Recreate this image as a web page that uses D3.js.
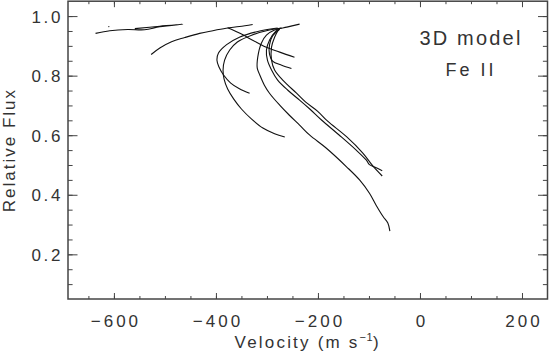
<!DOCTYPE html>
<html>
<head>
<meta charset="utf-8">
<script src="https://cdn.jsdelivr.net/npm/d3@7"></script>
<style>
body { margin: 0; background: #fff; }
svg { display: block; }
text { font-family: "Liberation Sans", Arial, sans-serif; fill: #333; }
</style>
</head>
<body>
<script>
// Figure size
const W = 549, H = 356;
const X0 = 68, X1 = 547.5, Y0 = 299, Y1 = 1.2;

// Axis ticks
const X_MAJOR = [-600, -400, -200, 0, 200];
const X_MINOR = d3.range(-650, 250, 50);
const Y_MAJOR = [0.2, 0.4, 0.6, 0.8, 1.0];
const Y_MINOR = d3.range(0.1, 1.05, 0.05);

// Bisectors (velocity m/s, relative flux)
const curveA = [[-636,0.942],[-608,0.951],[-573,0.955],[-540,0.954],[-510,0.964],[-465,0.973],[-510,0.966],[-559,0.958]];
const dotA   = [[-611,0.964],[-609,0.965]];
const curveB = [[-527,0.871],[-510,0.893],[-487,0.914],[-461,0.928],[-432,0.942],[-406,0.951],[-380,0.959],[-354,0.965],[-328,0.972]];
const outerC = [[-334,0.741],[-354,0.756],[-371,0.775],[-385,0.802],[-394,0.829],[-398,0.852],[-395,0.876],[-379,0.904],[-354,0.929],[-314,0.950],[-279,0.960]];
const innerC = [[-265,0.594],[-285,0.605],[-308,0.624],[-330,0.654],[-350,0.688],[-365,0.721],[-377,0.755],[-384,0.788],[-386,0.819],[-383,0.852],[-373,0.886],[-358,0.913],[-330,0.936],[-295,0.953],[-271,0.960]];
const longL  = [[-59,0.278],[-63,0.305],[-72,0.326],[-86,0.365],[-99,0.405],[-118,0.449],[-144,0.494],[-184,0.557],[-216,0.600],[-236,0.634],[-256,0.667],[-275,0.701],[-295,0.741],[-305,0.768],[-314,0.802],[-319,0.825],[-318,0.862],[-311,0.909],[-301,0.936],[-285,0.953],[-261,0.963],[-236,0.973]];
const para1  = [[-74,0.481],[-89,0.493],[-99,0.501],[-105,0.516],[-125,0.550],[-158,0.600],[-193,0.651],[-216,0.688],[-236,0.718],[-259,0.751],[-279,0.785],[-291,0.819],[-299,0.852],[-301,0.886],[-295,0.919],[-282,0.950],[-273,0.960]];
const para2  = [[-74,0.463],[-92,0.496],[-112,0.540],[-144,0.595],[-181,0.647],[-201,0.681],[-224,0.711],[-242,0.741],[-269,0.785],[-285,0.819],[-291,0.852],[-291,0.896],[-285,0.929],[-277,0.956]];
const arm1   = [[-246,0.862],[-275,0.879],[-305,0.898],[-328,0.919],[-354,0.943],[-377,0.961]];
const arm2   = [[-252,0.824],[-271,0.835],[-289,0.849],[-295,0.872],[-295,0.903],[-289,0.933],[-275,0.956]];

const CURVES = [curveA, dotA, curveB, outerC, innerC, longL, para1, para2, arm1, arm2];

// Scales
const x = d3.scaleLinear().domain([-690, 250]).range([X0, X1]);
const y = d3.scaleLinear().domain([0.05, 1.05]).range([Y0, Y1]);

const svg = d3.select("body").append("svg")
  .attr("width", W)
  .attr("height", H);

// Curves
const line = d3.line()
  .x(d => x(d[0]))
  .y(d => y(d[1]))
  .curve(d3.curveCatmullRom.alpha(0.5));

svg.append("g").selectAll("path")
  .data(CURVES)
  .join("path")
    .attr("d", line)
    .attr("fill", "none")
    .attr("stroke", "#111")
    .attr("stroke-width", 1.1);

// Axes: ticks point inward, IDL style
const AX = "#444";
const tidy = g => {
  g.select(".domain").remove();
  g.selectAll("line").attr("stroke", AX);
};

// major + minor on each side
const addX = (gen, ty, len, vals, labels) => {
  const g = svg.append("g")
    .attr("transform", `translate(0,${ty})`)
    .call(gen(x).tickValues(vals).tickSizeInner(-len).tickSizeOuter(0)
      .tickFormat(labels ? d3.format("d") : ""));
  tidy(g);
  return g;
};
const addY = (gen, tx, len, vals, labels) => {
  const g = svg.append("g")
    .attr("transform", `translate(${tx},0)`)
    .call(gen(y).tickValues(vals).tickSizeInner(-len).tickSizeOuter(0)
      .tickFormat(labels ? d3.format(".1f") : ""));
  tidy(g);
  return g;
};

addX(d3.axisBottom, Y0, 3, X_MINOR, false);
addX(d3.axisTop, Y1, 3, X_MINOR, false);
addY(d3.axisLeft, X0, 4.6, Y_MINOR, false);
addY(d3.axisRight, X1, 4.6, Y_MINOR, false);
addX(d3.axisTop, Y1, 6, X_MAJOR, false);
addY(d3.axisRight, X1, 9.5, Y_MAJOR, false);

const xb = addX(d3.axisBottom, Y0, 6, X_MAJOR, true);
xb.selectAll("text")
  .attr("y", 28).attr("dy", 0)
  .attr("font-size", 17)
  .attr("letter-spacing", 3)
  .attr("dx", 1.5);

const yl = addY(d3.axisLeft, X0, 9.5, Y_MAJOR, true);
yl.selectAll("text")
  .attr("x", -5)
  .attr("dy", "0.36em")
  .attr("font-size", 17)
  .attr("letter-spacing", 2.6);

// Frame
svg.append("rect")
  .attr("x", X0).attr("y", Y1)
  .attr("width", X1 - X0).attr("height", Y0 - Y1)
  .attr("fill", "none")
  .attr("stroke", AX)
  .attr("stroke-width", 1.5);

// Axis titles
const xt = svg.append("text")
  .attr("x", (X0 + X1) / 2)
  .attr("y", 348)
  .attr("text-anchor", "middle")
  .attr("font-size", 17)
  .attr("letter-spacing", 2.2);
xt.append("tspan").text("Velocity (m s");
xt.append("tspan").attr("dy", -7).attr("font-size", 11).attr("letter-spacing", 0.5).text("\u22121");
xt.append("tspan").attr("dy", 7).text(")");

svg.append("text")
  .attr("transform", `translate(15,${(Y0 + Y1) / 2}) rotate(-90)`)
  .attr("text-anchor", "middle")
  .attr("font-size", 17)
  .attr("letter-spacing", 2)
  .text("Relative Flux");

// Annotation
svg.append("text")
  .attr("x", 471).attr("y", 45)
  .attr("text-anchor", "middle")
  .attr("font-size", 20)
  .attr("letter-spacing", 2.2)
  .text("3D model");
svg.append("text")
  .attr("x", 471).attr("y", 76)
  .attr("text-anchor", "middle")
  .attr("font-size", 18)
  .attr("letter-spacing", 3)
  .text("Fe II");
</script>
</body>
</html>
